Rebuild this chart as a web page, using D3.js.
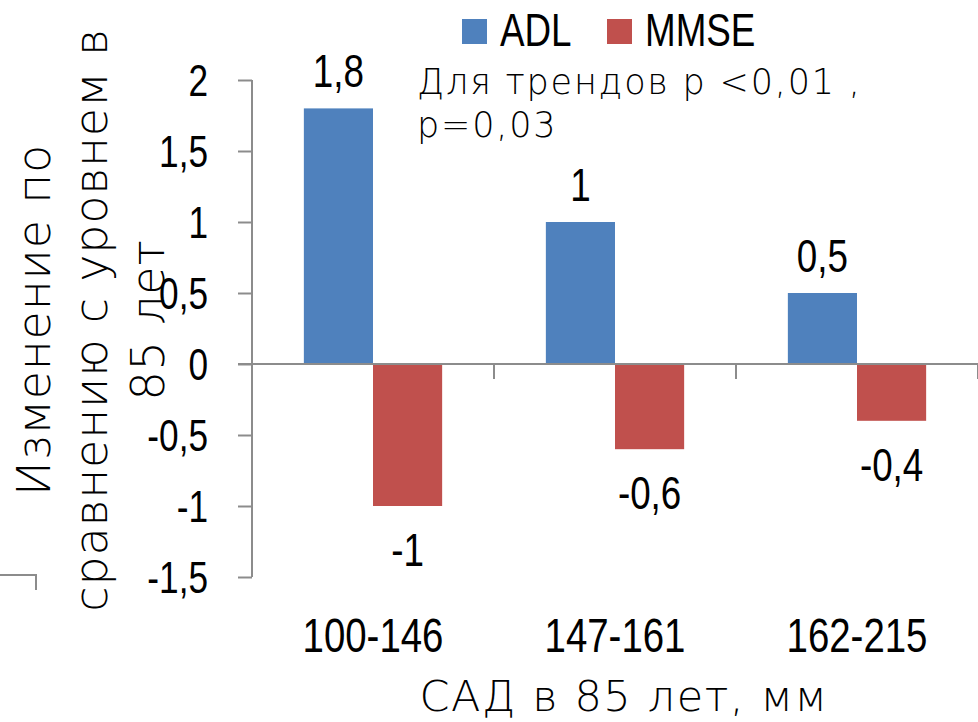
<!DOCTYPE html>
<html>
<head>
<meta charset="utf-8">
<script src="https://cdn.jsdelivr.net/npm/d3@7"></script>
<style>
  body { margin: 0; background: #fff; }
  svg { display: block; }
  .narrow { font-family: 'Liberation Sans Narrow', 'Liberation Sans', Arial, sans-serif; }
  .gothic { font-family: 'DejaVu Sans', 'Noto Sans', sans-serif; font-weight: 200; }
</style>
</head>
<body>
<div id="chart"></div>
<script>
var categories = ['100-146', '147-161', '162-215'];
var seriesNames = ['ADL', 'MMSE'];
var adlValues = [1.8, 1, 0.5];
var mmseValues = [-1, -0.6, -0.4];
var yTicks = [2, 1.5, 1, 0.5, 0, -0.5, -1, -1.5];

var colors = {ADL: '#4f81bd', MMSE: '#c0504d'},
  axisColor = '#8c8c8c',
  squeeze = 0.8,
  width = 978,
  height = 722;

var svg = d3.select('#chart').append('svg')
  .attr('width', width)
  .attr('height', height);

var y = d3.scaleLinear().domain([-1.5, 2]).range([577, 80]);
var x0 = d3.scaleBand().domain(categories).range([252, 978]).paddingInner(0).paddingOuter(0);
var x1 = d3.scaleBand().domain(seriesNames).range([0, x0.bandwidth()]).paddingInner(0).paddingOuter(0.75);

function fmt(v) {
  return String(v).replace('.', ',');
}

// narrow text: squeeze horizontally around its anchor point
function place(x, y) {
  return 'translate(' + x + ',' + y + ') scale(' + squeeze + ',1)';
}

var rows = categories.map(function (c, i) {
  return {cat: c, values: [{name: 'ADL', v: adlValues[i]}, {name: 'MMSE', v: mmseValues[i]}]};
});

// bars
var groups = svg.selectAll('.grp')
  .data(rows)
  .enter().append('g')
  .attr('class', 'grp')
  .attr('transform', function (d) { return 'translate(' + x0(d.cat) + ',0)'; });

groups.selectAll('rect')
  .data(function (d) { return d.values; })
  .enter().append('rect')
  .attr('x', function (d) { return x1(d.name); })
  .attr('width', x1.bandwidth())
  .attr('y', function (d) { return y(Math.max(0, d.v)); })
  .attr('height', function (d) { return Math.abs(y(d.v) - y(0)); })
  .attr('fill', function (d) { return colors[d.name]; });

groups.selectAll('.lbl')
  .data(function (d) { return d.values; })
  .enter().append('text')
  .attr('class', 'lbl narrow')
  .attr('text-anchor', 'middle')
  .attr('font-size', 46)
  .attr('transform', function (d) {
    return place(x1(d.name) + x1.bandwidth() / 2, d.v >= 0 ? y(d.v) - 21 : y(d.v) + 60);
  })
  .text(function (d) { return fmt(d.v); });

// y axis
var yAxis = svg.append('g')
  .attr('transform', 'translate(252,0)')
  .call(d3.axisLeft(y).tickValues(yTicks).tickSize(14).tickPadding(30).tickFormat(fmt));
yAxis.attr('font-family', null).attr('font-size', null);
yAxis.select('.domain').attr('stroke', axisColor).attr('stroke-width', 2).attr('d', 'M0,' + y(2) + 'V' + y(-1.5));
yAxis.selectAll('.tick line').attr('stroke', axisColor).attr('stroke-width', 2);
yAxis.selectAll('.tick text')
  .attr('class', 'narrow')
  .attr('font-size', 44)
  .attr('fill', '#000')
  .attr('x', 0)
  .attr('dy', '0.35em')
  .attr('transform', place(-44, 0));

// x axis along zero
var xAxis = svg.append('g');
xAxis.append('line')
  .attr('x1', 238).attr('x2', 978)
  .attr('y1', y(0)).attr('y2', y(0))
  .attr('stroke', axisColor).attr('stroke-width', 2);
xAxis.selectAll('.ctick')
  .data(categories)
  .enter().append('line')
  .attr('x1', function (d) { return x0(d) + x0.bandwidth(); })
  .attr('x2', function (d) { return x0(d) + x0.bandwidth(); })
  .attr('y1', y(0)).attr('y2', y(0) + 15)
  .attr('stroke', axisColor).attr('stroke-width', 2);
xAxis.selectAll('.clabel')
  .data(categories)
  .enter().append('text')
  .attr('class', 'narrow')
  .attr('text-anchor', 'middle')
  .attr('font-size', 48)
  .attr('transform', function (d) { return place(x0(d) + x0.bandwidth() / 2, 652); })
  .text(function (d) { return d; });

// stray bracket at left
svg.append('path')
  .attr('d', 'M0,575H36V590')
  .attr('fill', 'none')
  .attr('stroke', axisColor)
  .attr('stroke-width', 2);

// axis titles
svg.append('text')
  .attr('class', 'gothic')
  .attr('font-size', 43)
  .attr('letter-spacing', 1.6)
  .attr('text-anchor', 'middle')
  .attr('x', 624)
  .attr('y', 711)
  .text('САД в 85 лет, мм');

var yTitle = svg.append('text')
  .attr('class', 'gothic')
  .attr('font-size', 46)
  .attr('letter-spacing', 0.8)
  .attr('text-anchor', 'middle')
  .attr('transform', 'translate(50,320) rotate(-90)');
['Изменение по', 'сравнению с уровнем в', '85 лет'].forEach(function (t, i) {
  yTitle.append('tspan').attr('x', 0).attr('y', i * 57).text(t);
});

// note
var note = svg.append('text')
  .attr('class', 'gothic')
  .attr('font-size', 35)
  .attr('letter-spacing', 1.8);
note.append('tspan').attr('x', 417).attr('y', 94).text('Для трендов p <0,01 ,');
note.append('tspan').attr('x', 417).attr('y', 137).text('p=0,03');

// legend
var legend = svg.append('g');
var lx = [462, 607];
seriesNames.forEach(function (s, i) {
  legend.append('rect')
    .attr('x', lx[i]).attr('y', 19)
    .attr('width', 25).attr('height', 25)
    .attr('fill', colors[s]);
  legend.append('text')
    .attr('class', 'narrow')
    .attr('font-size', 46)
    .attr('transform', place(lx[i] + 38, 46))
    .text(s);
});
</script>
</body>
</html>
